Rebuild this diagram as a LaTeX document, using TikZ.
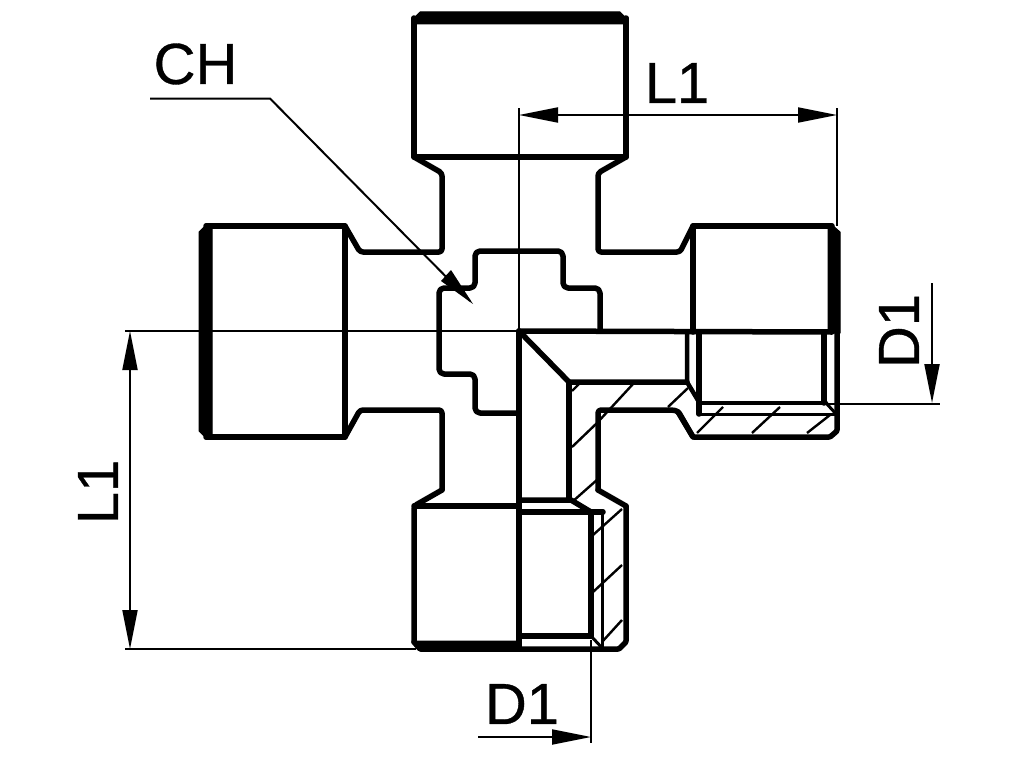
\documentclass[tikz,border=0pt]{standalone}
\usepackage{fontspec}
\setmainfont{Liberation Sans}
\newfontfamily\dimfont[FakeBold=0.6]{Liberation Sans}
\usetikzlibrary{arrows.meta}
\tikzset{
  thickline/.style={line width=5.5pt,line join=round,line cap=round},
  medline/.style={line width=4.5pt,line join=round,line cap=round},
  thinmed/.style={line width=3pt,line join=round},
  hatchline/.style={line width=2.4pt},
  dimline/.style={line width=2pt},
  band/.style={fill=black,draw=black,line width=1pt,line join=round},
  dimtip/.style={{Triangle[length=39pt,width=15pt]}-{Triangle[length=39pt,width=15pt]}},
  endtip/.style={-{Triangle[length=39pt,width=15pt]}},
  dimtext/.style={font=\dimfont\fontsize{58}{60}\selectfont,inner sep=0pt,text=black}
}
\begin{document}
\begin{tikzpicture}[x=1pt,y=-1pt]
\useasboundingbox (0,0) rectangle (1024,768);
\fill[white] (0,0) rectangle (1024,768);

% thin extension and leader lines
\draw[dimline] (519,108) -- (519,331);
\draw[dimline] (837,108) -- (837,226);
\draw[dimline] (125,331) -- (518,331);
\draw[dimline] (125,649) -- (416,649);
\draw[dimline] (826,403.5) -- (940,403.5);
\draw[dimline] (591,640) -- (591,743);
\draw[dimline] (150,98.5) -- (270,98.5) -- (470,301);
\fill (473,304) -- (441,281) -- (451,270) -- cycle;

% dimension arrows
\coordinate (topa) at (519,115); \coordinate (topb) at (837,115);
\draw[dimline,dimtip] (topa) -- (topb);
\coordinate (lefta) at (130,331); \coordinate (leftb) at (130,649);
\draw[dimline,dimtip] (lefta) -- (leftb);
\coordinate (rta) at (932,283); \coordinate (rtb) at (932,403);
\draw[dimline,endtip] (rta) -- (rtb);
\coordinate (bota) at (478,737); \coordinate (botb) at (591,737);
\draw[dimline,endtip] (bota) -- (botb);

% labels
\node[dimtext] (ch) at (195.5,64) {CH};
\node[dimtext] (l1top) at (677,83) {L1};
\node[dimtext,rotate=90] (l1left) at (98,492) {L1};
\node[dimtext,rotate=90] (d1right) at (899,331) {D1};
\node[dimtext] (d1bot) at (522,704) {D1};

% top head
\fill[band] (414,24) -- (414,18) -- (420,12) -- (620,12) -- (626,18) -- (626,24) -- cycle;
\draw[thickline] (414,18) -- (414,157) -- (626,157) -- (626,18);
\draw[thickline,rounded corners=3pt] (414,157) -- (442,173) -- (442,252) -- (360,252) -- (345,226);
\draw[thickline,rounded corners=3pt] (626,157) -- (598,173) -- (598,252) -- (680,252) -- (693,226);

% left head
\fill[band] (212,225) -- (206,225) -- (199,232) -- (199,431) -- (206,438) -- (212,438) -- cycle;
\draw[thickline] (206,226) -- (345,226) -- (345,437) -- (206,437);
\draw[thickline,rounded corners=3pt] (345,437) -- (360,410) -- (442,410) -- (442,490);

% centre cross
\draw[thickline,rounded corners=5pt] (518,413) -- (475,413) -- (475,374) -- (439,374) -- (439,288) -- (475,288) -- (475,251) -- (563,251) -- (563,288) -- (600,288) -- (600,331);

% section
\draw[thickline] (519,331) -- (832,332);
\draw[thickline] (519,331) -- (519,648);
\draw[thickline] (519,331) -- (569,382) -- (687,382);
\draw[thickline] (569,382) -- (569,500);

% right head
\fill[band] (828,226) -- (832,225) -- (840,232) -- (840,333) -- (828,333) -- cycle;
\draw[thickline] (693,332) -- (693,226) -- (832,226);
\draw[medline] (687,332) -- (687,382) -- (699,402);
\draw[thickline] (699,332) -- (699,414);
\draw[thickline] (824,332) -- (824,403);
\draw[medline] (699,403) -- (826,403);
\draw[thinmed] (699,414) -- (836,414);
\draw[thinmed] (826,403) -- (837,415);
\draw[thickline,rounded corners=1pt] (837,332) -- (837,431) -- (830,437) -- (693,437) -- (678,412);
\draw[thickline,rounded corners=3pt] (693,437) -- (678,411) -- (672,410) -- (598,410) -- (598,490);

% bottom head
\draw[thickline,rounded corners=3pt] (442,490) -- (414,506) -- (414,642);
\draw[thickline] (414,506) -- (519,506);
\draw[thickline,rounded corners=3pt] (598,490) -- (626,506);
\draw[thickline,rounded corners=1pt] (626,506) -- (626,642) -- (619,649) -- (420,649) -- (414,642);
\fill[band] (414,641) -- (519,641) -- (519,651) -- (420,651) -- cycle;
\draw[thickline] (519,500) -- (571,500) -- (591,512);
\draw[thickline] (519,512) -- (603,512);
\draw[thickline] (591,512) -- (591,636);
\draw[thickline] (519,636) -- (591,636);
\draw[thinmed] (602,512) -- (602,648);
\draw[thinmed] (591,636) -- (604,650);

% hatching
\draw[hatchline] (572,391) -- (579,384);
\draw[hatchline] (597,423) -- (633,384);
\draw[hatchline] (572,447) -- (597,423);
\draw[hatchline] (572,502) -- (598,479);
\draw[hatchline] (668,407) -- (688,388);
\draw[hatchline] (593,535) -- (622,509);
\draw[hatchline] (593,592) -- (622,565);
\draw[hatchline] (602,642) -- (622,620);
\draw[hatchline] (697,433) -- (723,407);
\draw[hatchline] (752,433) -- (780,407);
\draw[hatchline] (807,433) -- (830,415);
\end{tikzpicture}
\end{document}
